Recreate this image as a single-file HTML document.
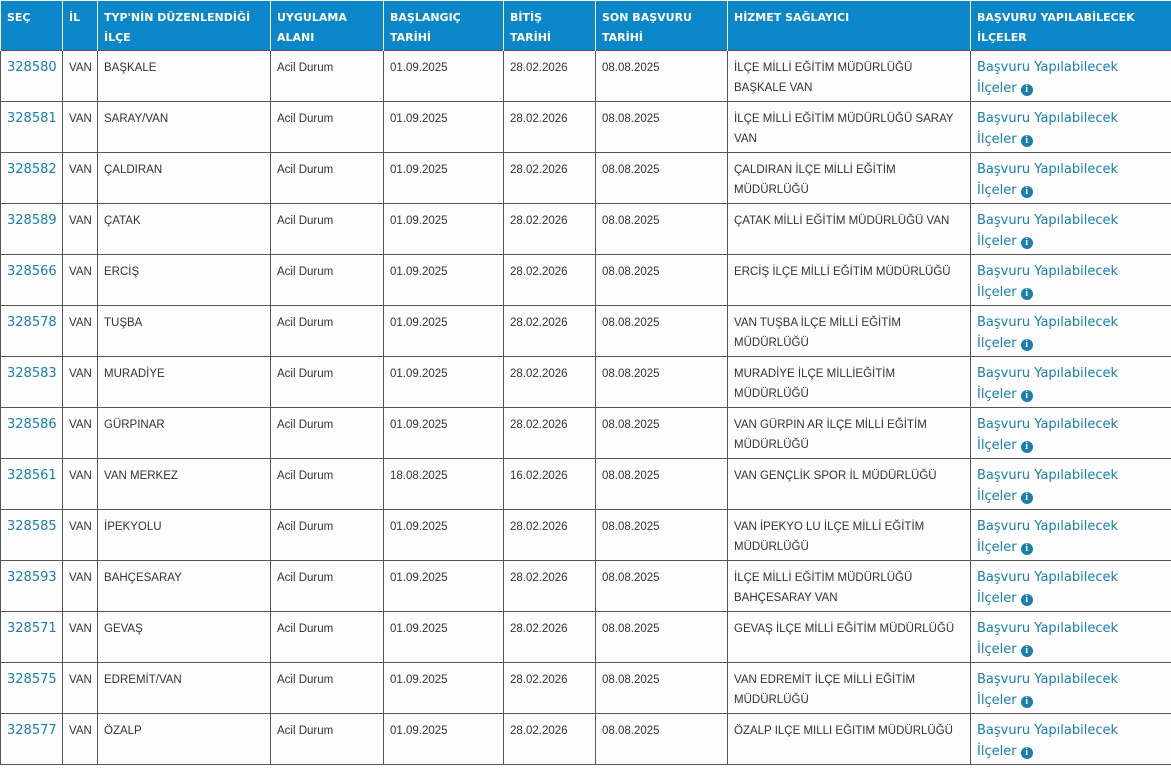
<!DOCTYPE html>
<html><head><meta charset="utf-8"><style>
body{margin:0;background:#fff;width:1171px;height:768px;overflow:hidden;font-family:"Liberation Sans","DejaVu Sans",sans-serif}
table{border-collapse:collapse;table-layout:fixed;position:absolute;left:0;top:1px;width:1171px}
th{background:#0b87c9;color:#fff;font-family:"DejaVu Sans",sans-serif;font-size:11px;font-weight:bold;text-align:left;vertical-align:top;padding:7px 6px 0;height:42px;line-height:20px;border-left:1px solid #fff;border-right:1px solid #fff;white-space:nowrap}
td{height:43px;border:1px solid #555;vertical-align:top;padding:7px 6px 0;font-size:11.5px;color:#333;line-height:20px;background:#fcfcfc;white-space:nowrap}
td.h{white-space:normal}
td.l{color:#1a7fab;font-family:"DejaVu Sans",sans-serif;font-size:13px;padding-top:7px}
td.b{color:#1a7fab;font-family:"DejaVu Sans",sans-serif;font-size:13px;padding-top:6px;line-height:21px}
.i{display:inline-block;width:12px;height:12px;border-radius:50%;background:#1a7fab;color:#fff;font-size:10px;line-height:12px;text-align:center;font-weight:bold;font-family:"Liberation Serif",serif;vertical-align:0}
</style></head><body>
<table>
<colgroup><col style="width:62px"><col style="width:35px"><col style="width:173px"><col style="width:113px"><col style="width:120px"><col style="width:92px"><col style="width:132px"><col style="width:243px"><col style="width:201px"></colgroup>
<tr><th>SEÇ</th><th>İL</th><th>TYP'NİN DÜZENLENDİĞİ<br>İLÇE</th><th>UYGULAMA<br>ALANI</th><th>BAŞLANGIÇ<br>TARİHİ</th><th>BİTİŞ<br>TARİHİ</th><th>SON BAŞVURU<br>TARİHİ</th><th>HİZMET SAĞLAYICI</th><th>BAŞVURU YAPILABİLECEK<br>İLÇELER</th></tr>
<tr><td class="l">328580</td><td>VAN</td><td>BAŞKALE</td><td>Acil Durum</td><td>01.09.2025</td><td>28.02.2026</td><td>08.08.2025</td><td class="h">İLÇE MİLLİ EĞİTİM MÜDÜRLÜĞÜ BAŞKALE VAN</td><td class="b">Başvuru Yapılabilecek<br>İlçeler <span class="i">i</span></td></tr>
<tr><td class="l">328581</td><td>VAN</td><td>SARAY/VAN</td><td>Acil Durum</td><td>01.09.2025</td><td>28.02.2026</td><td>08.08.2025</td><td class="h">İLÇE MİLLİ EĞİTİM MÜDÜRLÜĞÜ SARAY VAN</td><td class="b">Başvuru Yapılabilecek<br>İlçeler <span class="i">i</span></td></tr>
<tr><td class="l">328582</td><td>VAN</td><td>ÇALDIRAN</td><td>Acil Durum</td><td>01.09.2025</td><td>28.02.2026</td><td>08.08.2025</td><td class="h">ÇALDIRAN İLÇE MİLLİ EĞİTİM MÜDÜRLÜĞÜ</td><td class="b">Başvuru Yapılabilecek<br>İlçeler <span class="i">i</span></td></tr>
<tr><td class="l">328589</td><td>VAN</td><td>ÇATAK</td><td>Acil Durum</td><td>01.09.2025</td><td>28.02.2026</td><td>08.08.2025</td><td class="h">ÇATAK MİLLİ EĞİTİM MÜDÜRLÜĞÜ VAN</td><td class="b">Başvuru Yapılabilecek<br>İlçeler <span class="i">i</span></td></tr>
<tr><td class="l">328566</td><td>VAN</td><td>ERCİŞ</td><td>Acil Durum</td><td>01.09.2025</td><td>28.02.2026</td><td>08.08.2025</td><td class="h">ERCİŞ İLÇE MİLLİ EĞİTİM MÜDÜRLÜĞÜ</td><td class="b">Başvuru Yapılabilecek<br>İlçeler <span class="i">i</span></td></tr>
<tr><td class="l">328578</td><td>VAN</td><td>TUŞBA</td><td>Acil Durum</td><td>01.09.2025</td><td>28.02.2026</td><td>08.08.2025</td><td class="h">VAN TUŞBA İLÇE MİLLİ EĞİTİM MÜDÜRLÜĞÜ</td><td class="b">Başvuru Yapılabilecek<br>İlçeler <span class="i">i</span></td></tr>
<tr><td class="l">328583</td><td>VAN</td><td>MURADİYE</td><td>Acil Durum</td><td>01.09.2025</td><td>28.02.2026</td><td>08.08.2025</td><td class="h">MURADİYE İLÇE MİLLİEĞİTİM MÜDÜRLÜĞÜ</td><td class="b">Başvuru Yapılabilecek<br>İlçeler <span class="i">i</span></td></tr>
<tr><td class="l">328586</td><td>VAN</td><td>GÜRPINAR</td><td>Acil Durum</td><td>01.09.2025</td><td>28.02.2026</td><td>08.08.2025</td><td class="h">VAN GÜRPIN AR İLÇE MİLLİ EĞİTİM MÜDÜRLÜĞÜ</td><td class="b">Başvuru Yapılabilecek<br>İlçeler <span class="i">i</span></td></tr>
<tr><td class="l">328561</td><td>VAN</td><td>VAN MERKEZ</td><td>Acil Durum</td><td>18.08.2025</td><td>16.02.2026</td><td>08.08.2025</td><td class="h">VAN GENÇLİK SPOR İL MÜDÜRLÜĞÜ</td><td class="b">Başvuru Yapılabilecek<br>İlçeler <span class="i">i</span></td></tr>
<tr><td class="l">328585</td><td>VAN</td><td>İPEKYOLU</td><td>Acil Durum</td><td>01.09.2025</td><td>28.02.2026</td><td>08.08.2025</td><td class="h">VAN İPEKYO LU İLÇE MİLLİ EĞİTİM MÜDÜRLÜĞÜ</td><td class="b">Başvuru Yapılabilecek<br>İlçeler <span class="i">i</span></td></tr>
<tr><td class="l">328593</td><td>VAN</td><td>BAHÇESARAY</td><td>Acil Durum</td><td>01.09.2025</td><td>28.02.2026</td><td>08.08.2025</td><td class="h">İLÇE MİLLİ EĞİTİM MÜDÜRLÜĞÜ BAHÇESARAY VAN</td><td class="b">Başvuru Yapılabilecek<br>İlçeler <span class="i">i</span></td></tr>
<tr><td class="l">328571</td><td>VAN</td><td>GEVAŞ</td><td>Acil Durum</td><td>01.09.2025</td><td>28.02.2026</td><td>08.08.2025</td><td class="h">GEVAŞ İLÇE MİLLİ EĞİTİM MÜDÜRLÜĞÜ</td><td class="b">Başvuru Yapılabilecek<br>İlçeler <span class="i">i</span></td></tr>
<tr><td class="l">328575</td><td>VAN</td><td>EDREMİT/VAN</td><td>Acil Durum</td><td>01.09.2025</td><td>28.02.2026</td><td>08.08.2025</td><td class="h">VAN EDREMİT İLÇE MİLLİ EĞİTİM MÜDÜRLÜĞÜ</td><td class="b">Başvuru Yapılabilecek<br>İlçeler <span class="i">i</span></td></tr>
<tr><td class="l">328577</td><td>VAN</td><td>ÖZALP</td><td>Acil Durum</td><td>01.09.2025</td><td>28.02.2026</td><td>08.08.2025</td><td class="h">ÖZALP ILÇE MILLI EĞITIM MÜDÜRLÜĞÜ</td><td class="b">Başvuru Yapılabilecek<br>İlçeler <span class="i">i</span></td></tr>
</table>
</body></html>
